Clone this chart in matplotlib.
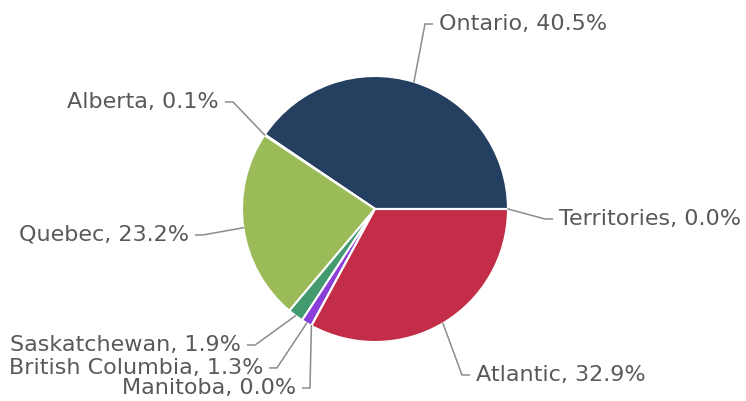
import numpy as np
import matplotlib.pyplot as plt

# Data
regions = ["Ontario", "Alberta", "Quebec", "Saskatchewan", "British Columbia",
           "Manitoba", "Atlantic", "Territories"]
shares = [40.5, 0.1, 23.2, 1.9, 1.3, 0.0, 32.9, 0.0]
colors = ["#243f60", "#4f81bd", "#9bbb59", "#439a6f", "#8a3fd8",
          "#f79646", "#c32d48", "#2c4d75"]

# elbow points of the leader lines (pie radius = 1)
elbows = [(0.376, 1.391), (-1.068, 0.805), (-1.293, -0.195), (-0.902, -1.023),
          (-0.737, -1.195), (-0.489, -1.346), (0.654, -1.248), (1.278, -0.075)]

px = 133.0
fig = plt.figure(figsize=(7.46, 4.01), dpi=100)
ax = fig.add_axes([0, 0, 1, 1])

wedges, _ = ax.pie(shares, colors=colors, startangle=0, counterclock=True,
                   radius=1, wedgeprops=dict(edgecolor="white", linewidth=1.5))

ax.set_xlim(-375 / px, (746 - 375) / px)
ax.set_ylim(-(401 - 209) / px, 209 / px)
ax.set_aspect("equal")
ax.axis("off")

total = sum(shares)
start = 0.0
for name, val, (ex, ey) in zip(regions, shares, elbows):
    mid = np.deg2rad(start + val / total * 360 / 2)
    start += val / total * 360
    x0, y0 = np.cos(mid), np.sin(mid)
    side = 1 if ex > 0 else -1
    hx = ex + side * 0.055
    ax.plot([x0, ex, hx], [y0, ey, ey], color="#8c8c8c", lw=1.1,
            solid_joinstyle="miter")
    ax.text(hx + side * 0.05, ey, f"{name}, {val:.1f}%", fontsize=16,
            family="DejaVu Sans", color="#595959",
            ha="left" if side > 0 else "right", va="center")

fig.savefig("out.png", dpi=100)
